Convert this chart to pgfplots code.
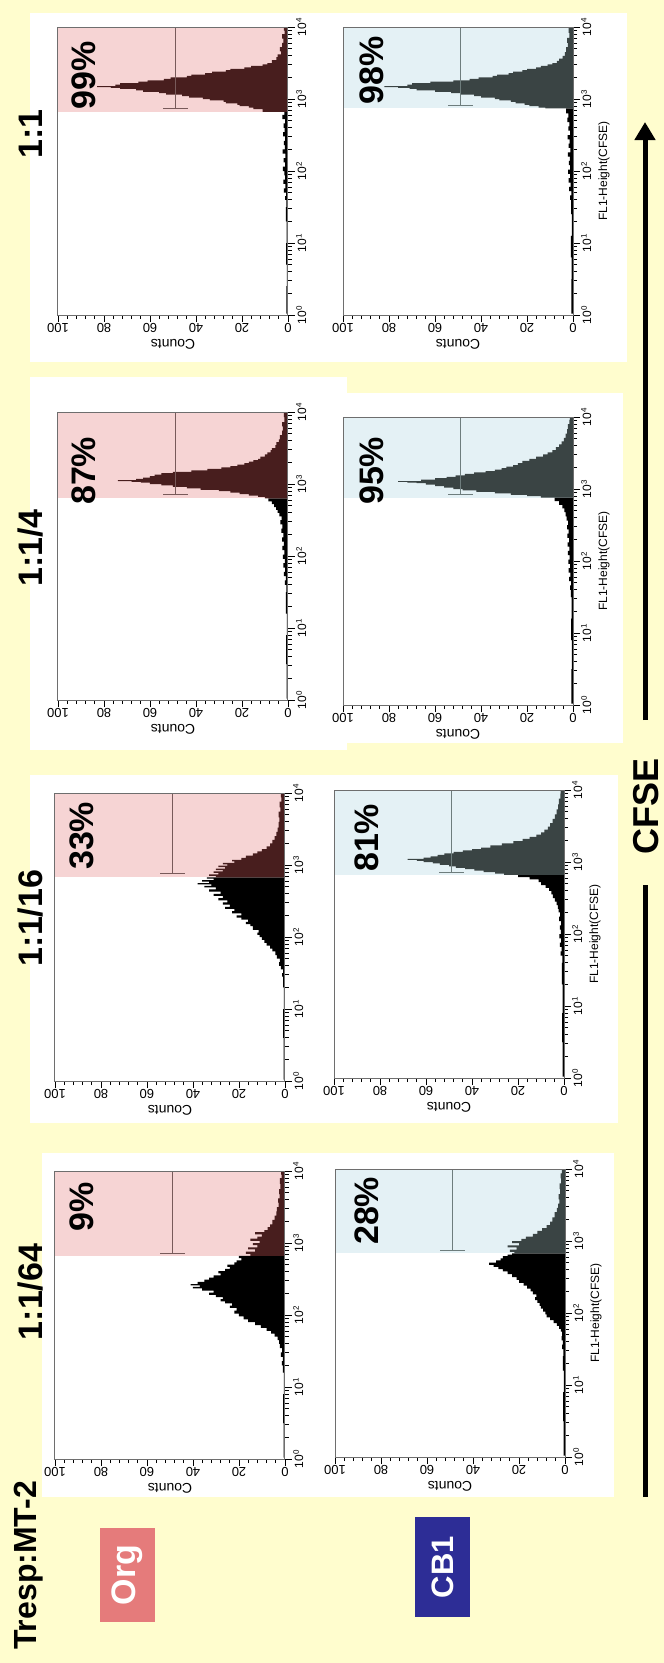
\documentclass[border=0pt]{standalone}
\usepackage{fontspec}
\setmainfont{Liberation Sans}
\usepackage{pgfplots}
\pgfplotsset{compat=1.18}
\usetikzlibrary{arrows.meta}

\definecolor{bgyellow}{RGB}{255,253,206}
\definecolor{gatepink}{RGB}{246,212,212}
\definecolor{gateblue}{RGB}{228,241,245}
\definecolor{maroon}{RGB}{72,30,30}
\definecolor{slate}{RGB}{58,68,68}
\definecolor{axgray}{RGB}{110,110,110}
\definecolor{barorg}{RGB}{120,90,90}
\definecolor{barcb}{RGB}{110,125,125}
\definecolor{orgred}{RGB}{229,123,123}
\definecolor{cbblue}{RGB}{45,45,150}

\newcommand{\fs}[1]{\fontsize{#1}{#1}\selectfont}

\pgfplotsset{
  facs/.style={
    scale only axis, width=230pt, height=288pt,
    xmin=0, xmax=100, ymin=0, ymax=4, x dir=reverse,
    axis on top, clip=false,
    axis line style={draw=axgray, line width=1pt},
    xtick={0,20,40,60,80,100}, xticklabels={0,20,40,60,80,100},
    minor x tick num=4,
    ytick={0,1,2,3,4},
    yticklabels={10\textsuperscript{0},10\textsuperscript{1},10\textsuperscript{2},10\textsuperscript{3},10\textsuperscript{4}},
    minor ytick={0.301,0.477,0.602,0.699,0.778,0.845,0.903,0.954,
                 1.301,1.477,1.602,1.699,1.778,1.845,1.903,1.954,
                 2.301,2.477,2.602,2.699,2.778,2.845,2.903,2.954,
                 3.301,3.477,3.602,3.699,3.778,3.845,3.903,3.954},
    xtick pos=left, ytick pos=right, yticklabel pos=right,
    tick align=outside,
    major tick length=7pt, minor tick length=4pt,
    tick style={black, line width=0.9pt},
    xticklabel style={rotate=180, anchor=south, font=\fs{13}, inner sep=1pt},
    yticklabel style={rotate=90, anchor=north, font=\fs{12}, inner sep=1pt},
  },
  hist/.style={const plot mark right, mark=none, draw=none},
}

\begin{document}
\begin{tikzpicture}
\useasboundingbox (0,0) rectangle (664pt,-1663pt);
\fill[bgyellow] (0,0) rectangle (664pt,-1663pt);

% white panel backgrounds
\fill[white] (30pt,-13pt) rectangle (627pt,-362pt);
\fill[white] (30pt,-377pt) rectangle (347pt,-750pt);
\fill[white] (313pt,-393pt) rectangle (623pt,-743pt);
\fill[white] (30pt,-775pt) rectangle (618pt,-1123pt);
\fill[white] (42pt,-1153pt) rectangle (614pt,-1497pt);

% ---------- 1:1, Org ----------
\begin{axis}[facs, at={(58pt,-27pt)}, anchor=north west]
\fill[gatepink] (axis cs:0,2.82) rectangle (axis cs:100,4);
\addplot[hist, fill=black] coordinates {
(0,0.02)(0.7,0.02)(0.5,0.4)(0.8,0.7)(0.6,1.0)(0.9,1.3)(0.7,1.5)(1.3,1.6)(0.8,1.65)
(1.8,1.7)(1.1,1.76)(2.0,1.82)(1.2,1.88)(1.6,1.94)(2.2,2.0)(1.3,2.06)(1.9,2.12)(1.1,2.18)
(2.3,2.24)(1.4,2.3)(1.8,2.36)(1.2,2.42)(2.1,2.48)(1.5,2.54)(1.9,2.6)(1.3,2.66)(2.4,2.72)
(1.6,2.78)(0,2.82)};
\addplot[hist, fill=maroon] coordinates {
(0,2.82)(11,2.82)(15,2.86)(17,2.88)(21,2.90)(22,2.92)(27,2.94)(28,2.96)(34,2.98)(37,3.00)
(43,3.02)(46,3.04)(53,3.06)(56,3.08)(63,3.10)(66,3.12)(73,3.14)(77,3.155)(83,3.165)
(75,3.18)(73,3.20)(65,3.22)(61,3.24)(54,3.26)(51,3.28)(44,3.30)(42,3.32)(36,3.34)(33,3.36)
(27,3.38)(25,3.40)(19,3.42)(16,3.44)(11,3.46)(9,3.48)(7,3.50)(5,3.54)(4.5,3.58)(3,3.62)
(3.5,3.66)(2.5,3.72)(2,3.78)(2.6,3.84)(1.5,3.9)(1.8,3.95)(0,4)};
\draw[barorg, line width=1pt] (axis cs:49,4) -- (axis cs:49,2.87)
  (axis cs:43.5,2.87) -- (axis cs:54.5,2.87);
\end{axis}

% ---------- 1:1, CB1 ----------
\begin{axis}[facs, at={(343pt,-27pt)}, anchor=north west]
\fill[gateblue] (axis cs:0,2.87) rectangle (axis cs:100,4);
\addplot[hist, fill=black] coordinates {
(0,0.02)(0.7,0.02)(0.6,0.5)(0.9,0.8)(0.5,1.1)(0.8,1.4)(1.2,1.6)(0.7,1.66)(1.7,1.72)
(1.0,1.78)(1.9,1.84)(1.3,1.9)(2.1,1.96)(1.2,2.02)(1.8,2.08)(1.4,2.14)(2.2,2.2)(1.1,2.26)
(1.9,2.32)(1.5,2.38)(2.3,2.44)(1.3,2.5)(2.0,2.56)(1.6,2.62)(2.5,2.68)(2.0,2.74)(3.0,2.8)
(0,2.87)};
\addplot[hist, fill=slate] coordinates {
(0,2.87)(12,2.87)(15,2.88)(19,2.90)(21,2.92)(25,2.94)(27,2.96)(32,2.98)(34,3.00)(40,3.02)
(43,3.04)(49,3.06)(53,3.08)(60,3.10)(68,3.12)(71,3.14)(76,3.155)(82,3.165)(72,3.18)
(70,3.20)(62,3.22)(52,3.24)(45,3.26)(41,3.28)(35,3.30)(33,3.32)(28,3.34)(26,3.36)(22,3.38)
(20,3.40)(16,3.42)(14,3.44)(11,3.46)(9,3.48)(7,3.50)(6,3.53)(4.5,3.56)(3.5,3.60)(3,3.65)
(2.2,3.72)(2.6,3.78)(1.6,3.85)(1.9,3.92)(0,4)};
\draw[barcb, line width=1pt] (axis cs:49,4) -- (axis cs:49,2.91)
  (axis cs:43.5,2.91) -- (axis cs:54.5,2.91);
\end{axis}

% ---------- 1:1/4, Org ----------
\begin{axis}[facs, at={(58pt,-412pt)}, anchor=north west]
\fill[gatepink] (axis cs:0,2.80) rectangle (axis cs:100,4);
\addplot[hist, fill=black] coordinates {
(0,0.02)(0.6,0.02)(0.8,0.5)(0.5,0.9)(0.9,1.2)(0.7,1.5)(1.4,1.6)(0.9,1.66)(1.8,1.72)
(1.2,1.78)(2.0,1.84)(1.4,1.9)(2.2,1.96)(1.6,2.02)(2.4,2.08)(1.8,2.14)(2.6,2.2)(2.0,2.26)
(2.9,2.32)(2.4,2.38)(3.3,2.44)(2.8,2.5)(3.8,2.55)(4.5,2.6)(5.2,2.64)(6,2.68)(7,2.72)
(8.5,2.76)(0,2.80)};
\addplot[hist, fill=maroon] coordinates {
(0,2.80)(10,2.80)(13,2.82)(17,2.84)(21,2.86)(25,2.88)(30,2.90)(38,2.92)(44,2.94)(50,2.96)
(55,2.98)(60,3.00)(64,3.02)(68,3.03)(74,3.04)(66,3.055)(63,3.07)(60,3.09)(58,3.11)
(55,3.13)(50,3.15)(42,3.17)(35,3.19)(29,3.21)(25,3.23)(22,3.25)(19,3.27)(17,3.29)
(15,3.31)(13,3.33)(12,3.35)(10,3.38)(9,3.41)(7.5,3.44)(7,3.47)(5.5,3.50)(5,3.54)(4,3.58)
(3.5,3.62)(2.6,3.68)(2.2,3.74)(2.5,3.8)(1.6,3.86)(1.8,3.93)(0,4)};
\draw[barorg, line width=1pt] (axis cs:49,4) -- (axis cs:49,2.85)
  (axis cs:43.5,2.85) -- (axis cs:54.5,2.85);
\end{axis}

% ---------- 1:1/4, CB1 ----------
\begin{axis}[facs, at={(343pt,-417pt)}, anchor=north west]
\fill[gateblue] (axis cs:0,2.88) rectangle (axis cs:100,4);
\addplot[hist, fill=black] coordinates {
(0,0.02)(0.7,0.02)(0.5,0.5)(0.8,0.9)(0.6,1.2)(0.9,1.5)(1.3,1.6)(0.8,1.66)(1.7,1.72)
(1.1,1.78)(1.9,1.84)(1.3,1.9)(2.0,1.96)(1.5,2.02)(2.2,2.08)(1.6,2.14)(2.3,2.2)(1.7,2.26)
(2.4,2.32)(1.9,2.38)(2.6,2.44)(2.1,2.5)(2.8,2.56)(3.2,2.62)(3.8,2.68)(4.6,2.73)(6,2.78)
(8,2.83)(0,2.88)};
\addplot[hist, fill=slate] coordinates {
(0,2.88)(14,2.88)(20,2.90)(27,2.92)(34,2.94)(42,2.96)(48,2.98)(52,3.00)(56,3.02)(60,3.04)
(64,3.06)(68,3.08)(72,3.09)(76,3.10)(66,3.11)(60,3.13)(55,3.15)(51,3.17)(47,3.19)
(43,3.21)(38,3.23)(34,3.25)(31,3.27)(29,3.29)(26,3.31)(24,3.33)(22,3.36)(19,3.39)
(16,3.42)(13,3.45)(11,3.48)(9,3.51)(7.5,3.54)(6,3.58)(5,3.62)(4,3.66)(3.2,3.71)
(2.6,3.77)(2.2,3.83)(1.6,3.9)(1.4,3.96)(0,4)};
\draw[barcb, line width=1pt] (axis cs:49,4) -- (axis cs:49,2.92)
  (axis cs:43.5,2.92) -- (axis cs:54.5,2.92);
\end{axis}

% ---------- 1:1/16, Org ----------
\begin{axis}[facs, at={(55pt,-793pt)}, anchor=north west]
\fill[gatepink] (axis cs:0,2.83) rectangle (axis cs:100,4);
\addplot[hist, fill=black] coordinates {
(0,0.02)(0.6,0.02)(0.8,0.6)(0.5,1.0)(0.8,1.3)(1.3,1.45)(0.8,1.5)(1.8,1.55)(2.5,1.6)
(2.2,1.65)(3.5,1.7)(4.2,1.75)(5.5,1.8)(6.5,1.84)(8,1.88)(9,1.92)(10,1.96)(11,2.0)
(12,2.03)(11.5,2.06)(14,2.1)(15,2.15)(17,2.18)(16,2.21)(19,2.24)(21,2.27)(19,2.30)
(23,2.33)(22,2.36)(26,2.39)(24,2.42)(27,2.45)(25,2.48)(29,2.51)(27,2.54)(31,2.57)
(28,2.60)(33,2.63)(30,2.66)(35,2.69)(32,2.71)(38,2.73)(33,2.75)(36,2.77)(31,2.79)
(34,2.81)(0,2.83)};
\addplot[hist, fill=maroon] coordinates {
(0,2.83)(30,2.83)(33,2.85)(29,2.87)(31,2.89)(27,2.91)(30,2.93)(26,2.95)(29,2.97)(25,2.99)
(27,3.01)(22,3.03)(23,3.05)(19,3.07)(17,3.10)(14,3.13)(12,3.16)(10,3.19)(8,3.22)
(6.5,3.26)(5.5,3.30)(4.5,3.35)(3.8,3.40)(3.2,3.46)(2.8,3.52)(2.4,3.6)(2.8,3.66)(2,3.74)
(2.3,3.8)(1.6,3.88)(1.8,3.94)(0,4)};
\draw[barorg, line width=1pt] (axis cs:49,4) -- (axis cs:49,2.88)
  (axis cs:43.5,2.88) -- (axis cs:54.5,2.88);
\end{axis}

% ---------- 1:1/16, CB1 ----------
\begin{axis}[facs, at={(334pt,-790pt)}, anchor=north west]
\fill[gateblue] (axis cs:0,2.82) rectangle (axis cs:100,4);
\addplot[hist, fill=black] coordinates {
(0,0.02)(0.6,0.02)(0.8,0.5)(0.6,0.9)(0.9,1.3)(0.7,1.6)(1.5,1.7)(1.0,1.76)(1.8,1.82)
(1.2,1.88)(2.0,1.94)(1.4,2.0)(1.8,2.06)(1.3,2.12)(2.1,2.18)(1.7,2.24)(2.3,2.3)(2.7,2.35)
(3.2,2.4)(4,2.45)(4.8,2.5)(5.5,2.55)(6.5,2.6)(8,2.64)(10,2.68)(11,2.72)(15,2.76)(20,2.79)
(0,2.82)};
\addplot[hist, fill=slate] coordinates {
(0,2.82)(26,2.82)(30,2.84)(35,2.86)(39,2.88)(43,2.90)(47,2.92)(50,2.94)(54,2.96)(57,2.98)
(61,3.00)(64,3.015)(68,3.03)(61,3.045)(58,3.06)(55,3.08)(52,3.10)(48,3.12)(44,3.14)
(40,3.16)(36,3.18)(32,3.20)(27,3.23)(22,3.26)(18,3.29)(15,3.32)(12,3.35)(10,3.38)
(8.5,3.41)(7,3.45)(6,3.49)(5,3.54)(4,3.6)(3.2,3.66)(2.6,3.73)(2.2,3.8)(1.6,3.88)
(1.5,3.95)(0,4)};
\draw[barcb, line width=1pt] (axis cs:49,4) -- (axis cs:49,2.86)
  (axis cs:43.5,2.86) -- (axis cs:54.5,2.86);
\end{axis}

% ---------- 1:1/64, Org ----------
\begin{axis}[facs, at={(55pt,-1171pt)}, anchor=north west]
\fill[gatepink] (axis cs:0,2.82) rectangle (axis cs:100,4);
\addplot[hist, fill=black] coordinates {
(0,0.02)(0.6,0.02)(0.8,0.5)(0.5,0.9)(0.9,1.2)(1.4,1.3)(0.9,1.36)(1.8,1.42)(1.2,1.48)
(2.2,1.54)(2.6,1.6)(3.2,1.65)(4.5,1.7)(6,1.74)(8,1.78)(10.5,1.82)(13,1.86)(16,1.9)
(18,1.94)(20,1.98)(22,2.02)(21,2.06)(24,2.10)(23,2.13)(26,2.16)(28,2.19)(27,2.22)
(30,2.25)(33,2.28)(31,2.31)(36,2.34)(40,2.37)(37,2.39)(41,2.41)(38,2.43)(35,2.46)
(33,2.49)(31,2.52)(28,2.55)(29,2.58)(26,2.61)(24,2.64)(25,2.67)(22,2.70)(21,2.73)
(19,2.76)(20,2.79)(0,2.82)};
\addplot[hist, fill=maroon] coordinates {
(0,2.82)(15,2.82)(17,2.85)(13,2.88)(16,2.91)(12,2.94)(14,2.97)(11,3.00)(15,3.03)(12,3.06)
(10,3.09)(13,3.12)(9,3.15)(7.5,3.18)(6.5,3.22)(5.5,3.26)(4.5,3.32)(3.8,3.38)(3.5,3.44)
(2.8,3.5)(3,3.56)(2.3,3.62)(2.6,3.68)(2,3.75)(2.2,3.82)(1.5,3.9)(1.7,3.95)(0,4)};
\draw[barorg, line width=1pt] (axis cs:49,4) -- (axis cs:49,2.86)
  (axis cs:43.5,2.86) -- (axis cs:54.5,2.86);
\end{axis}

% ---------- 1:1/64, CB1 ----------
\begin{axis}[facs, at={(335pt,-1169pt)}, anchor=north west]
\fill[gateblue] (axis cs:0,2.83) rectangle (axis cs:100,4);
\addplot[hist, fill=black] coordinates {
(0,0.02)(0.6,0.02)(0.8,0.5)(0.5,0.9)(0.9,1.2)(0.7,1.4)(1.3,1.5)(0.9,1.56)(1.5,1.62)
(1.2,1.68)(1.8,1.74)(2.6,1.78)(3.5,1.82)(5,1.86)(6.5,1.9)(8,1.94)(8.5,1.98)(9.5,2.02)
(10.5,2.06)(11,2.10)(12,2.14)(13,2.18)(12.5,2.22)(14,2.26)(15,2.30)(16.5,2.34)(18,2.38)
(20,2.42)(21,2.46)(23,2.50)(25,2.54)(27,2.58)(29,2.61)(31,2.64)(33,2.67)(30,2.70)
(28,2.73)(27,2.76)(25,2.79)(23,2.81)(0,2.83)};
\addplot[hist, fill=slate] coordinates {
(0,2.83)(22,2.83)(24,2.85)(21,2.88)(25,2.91)(20,2.94)(23,2.97)(19,3.00)(17,3.03)(14,3.06)
(12,3.10)(10,3.14)(8,3.18)(6.5,3.22)(5.5,3.27)(4.5,3.33)(3.5,3.4)(3,3.46)(2.5,3.52)
(2.8,3.58)(2.1,3.65)(2.3,3.72)(1.7,3.8)(1.9,3.87)(1.4,3.94)(0,4)};
\draw[barcb, line width=1pt] (axis cs:49,4) -- (axis cs:49,2.87)
  (axis cs:43.5,2.87) -- (axis cs:54.5,2.87);
\end{axis}

% axis descriptions
\foreach \cx/\cy in {173/344, 458/344, 173/729, 458/734, 170/1110, 449/1107, 170/1488, 450/1486}
  \node[rotate=180, font=\fs{14}, inner sep=0] at (\cx pt,-\cy pt) {Counts};
\foreach \cx/\cy in {604/171, 604/561, 595/934, 596/1313}
  \node[rotate=90, font=\fs{12}, inner sep=0] at (\cx pt,-\cy pt) {FL1-Height(CFSE)};

% column titles
\node[rotate=90, anchor=base, inner sep=0, font=\bfseries\fs{34}] at (42pt,-134pt) {1:1};
\node[rotate=90, anchor=base, inner sep=0, font=\bfseries\fs{34}] at (42pt,-548pt) {1:1/4};
\node[rotate=90, anchor=base, inner sep=0, font=\bfseries\fs{34}] at (42pt,-918pt) {1:1/16};
\node[rotate=90, anchor=base, inner sep=0, font=\bfseries\fs{34}] at (42pt,-1292pt) {1:1/64};
\node[rotate=90, anchor=base west, inner sep=0, font=\bfseries\fs{32}] at (36pt,-1650pt) {Tresp:MT-2};

% percentages
\foreach \px/\py/\t in {95/110/99, 383/105/98, 95/505/87, 383/505/95,
                        93/870/33, 378/872/81, 93/1232/9, 378/1245/28}
  \node[rotate=90, anchor=base west, inner sep=0, font=\bfseries\fs{34}] at (\px pt,-\py pt) {\t\%};

% row labels
\node[fill=orgred, text=white, rotate=90, minimum width=94pt, minimum height=55pt,
      inner sep=0, font=\bfseries\fs{34}] at (127.5pt,-1575pt) {Org};
\node[fill=cbblue, text=white, rotate=90, minimum width=100pt, minimum height=55pt,
      inner sep=0, font=\bfseries\fs{31}] at (442.5pt,-1567pt) {CB1};

% CFSE arrow
\draw[line width=5pt] (645pt,-1497pt) -- (645pt,-885pt);
\draw[line width=5pt, -{Triangle[length=18pt,width=20pt]}] (645pt,-720pt) -- (645pt,-122pt);
\node[rotate=90, anchor=base west, inner sep=0, font=\bfseries\fs{36}] at (658pt,-855pt) {CFSE};
\end{tikzpicture}
\end{document}
